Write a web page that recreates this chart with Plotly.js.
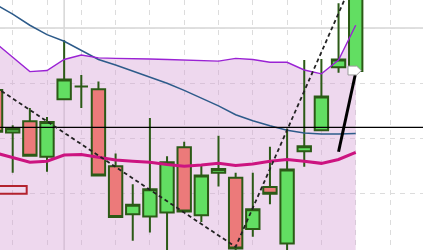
<!DOCTYPE html>
<html>
<head>
<meta charset="utf-8">
<script src="https://cdn.plot.ly/plotly-3.0.1.min.js"></script>
<style>html,body{margin:0;padding:0;background:#fff;}#chart{width:423px;height:250px;}</style>
</head>
<body>
<div id="chart"></div>
<script>
// bar index (one candle per period)
const bars   = [-1,0,1,2,3,4,5,6,7,8,9,10,11,12,13,14,15,16,17,18,19,20];
const open   = [28.8,21.1,23.1,16.7,27.1,29.4,28.9,15.0, 6.3, 5.9, 6.6,18.4, 6.1,13.8,12.9, 3.6,11.2, 1.0,17.7,21.5,32.9,32.2];
const high   = [28.9,22.4,25.5,23.9,37.8,31.5,30.3,17.3,11.7,23.7,16.8,19.4,15.3,20.5,13.8,13.8,18.5,21.8,34.2,34.4,44.5,47.5];
const low    = [21.0,13.8,16.9,14.0,27.1,25.5,13.3, 5.7, 1.5, 3.0,-0.8, 6.8, 4.9,11.3,-0.3, 2.2, 8.1,-0.5,14.9,21.5,31.9,32.2];
const close  = [21.2,21.8,16.9,23.0,30.7,29.4,13.3, 5.8, 8.0,10.8,15.7, 6.8,13.3,14.5, 0.1, 7.2,10.0,14.4,18.6,27.6,34.3,47.0];

// envelope / bands
const upperBand = [37.3,34.7,32.1,32.3,34.3,35.1,34.6,34.5,34.5,34.4,34.3,34.2,34.1,34.0,34.5,34.3,33.8,33.8,32.4,31.7,34.2,40.5];
const midBand   = [17.4,16.5,15.7,15.9,17.0,17.1,16.6,16.1,15.9,15.7,15.3,15.0,15.2,15.5,15.1,15.4,15.9,16.2,15.9,15.5,16.2,17.5];
const lowerBand = [-2.5,-1.7,-0.7,-0.5,-0.3,-0.9,-1.4,-2.3,-2.7,-3.0,-3.7,-4.2,-3.7,-3.0,-4.3,-3.5,-2.0,-1.4,-0.6,-0.7,-1.8,-5.5];
const slowMA    = [44.3,42.5,40.5,38.8,37.6,36.0,34.3,33.3,32.2,31.1,30.0,28.7,27.3,25.9,24.3,23.2,22.3,21.5,21.0,20.8,20.8,20.9];

// drawings
const levelPrice = 22.0;
const levelX = [-2, 25];
const trendX = [-1, 13, 19.6];
const trendY = [29.3, 0.4, 46.9];
const arrowX = [19.0, 19.97];
const arrowY = [17.6, 31.5];
const headX = [19.55, 20.06, 20.33, 20.06, 19.55, 19.55];
const headY = [33.1, 33.1, 32.3, 31.5, 31.5, 33.1];
const labelBoxX = [-1.5, 0.816, 0.816, -1.5, -1.5];
const labelBoxY = [11.4, 11.4, 10.0, 10.0, 11.4];
const crossX = 3;
const crossY = 40;

const xr = [-0.7405, 23.924];
const yr = [-0.181, 45.068];

const traces = [
  {type:'scatter', mode:'lines', x:bars, y:lowerBand, line:{width:0}, hoverinfo:'skip', showlegend:false, xaxis:'x', yaxis:'y'},
  {type:'scatter', mode:'lines', x:bars, y:upperBand, fill:'tonexty', fillcolor:'rgba(212,157,212,0.4)', line:{width:0}, hoverinfo:'skip', showlegend:false, xaxis:'x', yaxis:'y'},
  {type:'candlestick', x:bars, open:open, high:high, low:low, close:close, xaxis:'x', yaxis:'y2',
   increasing:{line:{color:'#2b5a16', width:2}, fillcolor:'#62de62'},
   decreasing:{line:{color:'#2b5a16', width:2}, fillcolor:'#ec7a7a'},
   whiskerwidth:0, showlegend:false},
  {type:'scatter', mode:'lines', x:bars, y:slowMA, line:{color:'#2d5b8a', width:1.5}, showlegend:false, xaxis:'x', yaxis:'y2'},
  {type:'scatter', mode:'lines', x:bars, y:midBand, line:{color:'#cc1480', width:3}, showlegend:false, xaxis:'x', yaxis:'y2'},
  {type:'scatter', mode:'lines', x:bars, y:upperBand, line:{color:'#9a22d4', width:1.4}, showlegend:false, xaxis:'x', yaxis:'y2'},
  {type:'scatter', mode:'lines', x:levelX, y:[levelPrice, levelPrice], line:{color:'#000', width:1.2}, showlegend:false, xaxis:'x', yaxis:'y2'},
  {type:'scatter', mode:'lines', x:trendX, y:trendY, line:{color:'#222', width:1.8, dash:'4px,3px'}, showlegend:false, xaxis:'x', yaxis:'y2'},
  {type:'scatter', mode:'lines', x:arrowX, y:arrowY, line:{color:'#000', width:3}, showlegend:false, xaxis:'x', yaxis:'y2'},
  {type:'scatter', mode:'lines', x:headX, y:headY, fill:'toself', fillcolor:'#ffffff', line:{color:'#9a9a9a', width:1}, showlegend:false, xaxis:'x', yaxis:'y2'},
  {type:'scatter', mode:'lines', x:labelBoxX, y:labelBoxY, line:{color:'#b3222e', width:2}, showlegend:false, xaxis:'x', yaxis:'y2'}
];

const ax = {showticklabels:false, zeroline:false, showline:false, ticks:''};
const layout = {
  width:423, height:250,
  margin:{l:0, r:0, t:0, b:0, pad:0},
  paper_bgcolor:'#ffffff', plot_bgcolor:'#ffffff',
  showlegend:false,
  boxgap:0.22, boxgroupgap:0,
  xaxis:Object.assign({}, ax, {range:xr, tick0:0, dtick:2, showgrid:true, gridcolor:'#dcdcdc', griddash:'5px,5px', gridwidth:1, rangeslider:{visible:false}, fixedrange:true}),
  yaxis:Object.assign({}, ax, {range:yr, tick0:0, dtick:10, showgrid:true, gridcolor:'#dcdcdc', griddash:'5px,5px', gridwidth:1, fixedrange:true}),
  yaxis2:Object.assign({}, ax, {range:yr, overlaying:'y', showgrid:false, visible:false, fixedrange:true}),
  shapes:[
    {type:'line', xref:'paper', x0:0, x1:1, yref:'y', y0:crossY, y1:crossY, line:{color:'#d6d6d6', width:1.5}, layer:'below'},
    {type:'line', xref:'x', x0:crossX, x1:crossX, yref:'paper', y0:0, y1:1, line:{color:'#d6d6d6', width:1.5}, layer:'below'}
  ]
};

Plotly.newPlot('chart', traces, layout, {staticPlot:true, displayModeBar:false});
</script>
</body>
</html>
